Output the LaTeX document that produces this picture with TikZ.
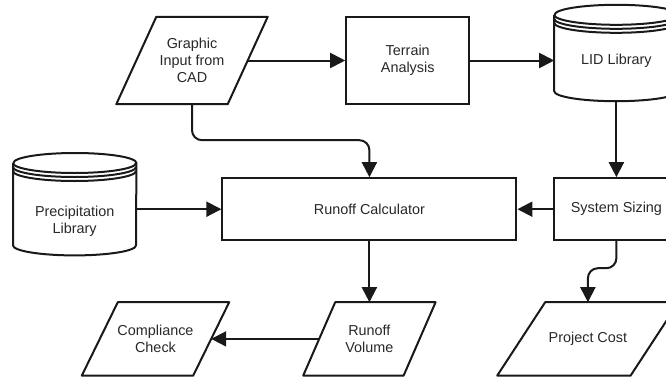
\documentclass[tikz,border=0pt]{standalone}
\usepackage{fontspec}
\setmainfont{Liberation Sans}
\usetikzlibrary{arrows.meta,positioning,calc}
\definecolor{colTrait}{RGB}{25,25,25}
\definecolor{colTexte}{RGB}{40,40,40}

% slanted outline round a data node
\newcommand{\ioedge}[2]{%
  \draw[edge] ([xshift=-#2]#1.south west) -- ([xshift=-#2]#1.south east)
    -- ([xshift=#2]#1.north east) -- ([xshift=#2]#1.north west) -- cycle;}
% stored data outline
\newcommand{\dbedge}[2]{%
  \draw[edge] ([yshift=-10pt]#1.north west) -- ([yshift=10pt]#1.south west)
    arc[start angle=180, end angle=360, x radius=#2, y radius=10pt]
    -- ([yshift=-10pt]#1.north east)
    arc[start angle=0, end angle=180, x radius=#2, y radius=10pt];
  \foreach \dy in {10pt,14pt,18pt}
    \draw[edge] ([yshift=-\dy]#1.north west)
      arc[start angle=180, end angle=360, x radius=#2, y radius=10pt];}

\begin{document}
\begin{tikzpicture}[x=1pt, y=1pt, font=\fontsize{14.4}{17.3}\selectfont,
    text=colTexte,
    edge/.style={draw=colTrait, line width=2pt, line join=round},
    proc/.style={rectangle, draw=colTrait, line width=2pt, align=center,
      inner sep=0pt},
    io/.style={rectangle, align=center, inner sep=0pt, minimum height=73pt},
    db/.style={rectangle, align=center, inner sep=0pt},
    fl/.style={-{Triangle[length=15pt, width=15pt]}, line width=2pt, colTrait}]
  \useasboundingbox (0,0) rectangle (666,376);
  \clip (0,0) rectangle (666,376);
  \node[io, minimum width=111pt, minimum height=87pt] (gfx) at (192,315.5)
    {Graphic\\Input from\\CAD};
  \node[proc, minimum width=123pt, minimum height=87pt, right=97.5pt of gfx]
    (terr) {Terrain\\Analysis};
  \node[db, minimum width=124pt, minimum height=96pt, right=84pt of terr,
    yshift=7.5pt] (lid) {\raisebox{-8pt}[\height][\depth]{LID Library}};
  \node[proc, minimum width=124pt, minimum height=62pt, below=76pt of lid]
    (sys) {System Sizing};
  \node[proc, minimum width=294pt, minimum height=62pt, left=36pt of sys]
    (calc) {Runoff Calculator};
  \node[db, minimum width=123pt, minimum height=102pt, left=85pt of calc,
    yshift=5pt] (prec) {\raisebox{-17pt}[\height][\depth]{%
    \begin{tabular}{@{}c@{}}Precipitation\\Library\end{tabular}}};
  \node[io, minimum width=100pt, below=61pt of calc] (vol) {Runoff\\Volume};
  \node[io, minimum width=111pt, left=108pt of vol] (comp)
    {Compliance\\Check};
  \node[io, minimum width=133pt, below=61pt of sys, xshift=-28.5pt] (cost)
    {Project Cost};
  \ioedge{gfx}{20pt} \ioedge{vol}{16pt} \ioedge{comp}{18pt}
  \ioedge{cost}{24pt}
  \dbedge{lid}{62pt} \dbedge{prec}{61.5pt}
  \draw[fl] (gfx.east) -- (terr.west);
  \draw[fl] (terr.east) -- (terr.east -| lid.west);
  \draw[fl] (lid.south) -- (sys.north);
  \draw[fl] (sys.west) -- (calc.east);
  \draw[fl] (prec.east |- calc.west) -- (calc.west);
  \draw[fl, rounded corners=10pt] (gfx.south) -- ++(0,-36) -| (calc.north);
  \draw[fl] (calc.south) -- (vol.north);
  \draw[fl] (vol.west) -- (comp.east);
  \draw[fl, rounded corners=10pt] (sys.south) -- ++(0,-27) -| (cost.north);
\end{tikzpicture}
\end{document}
